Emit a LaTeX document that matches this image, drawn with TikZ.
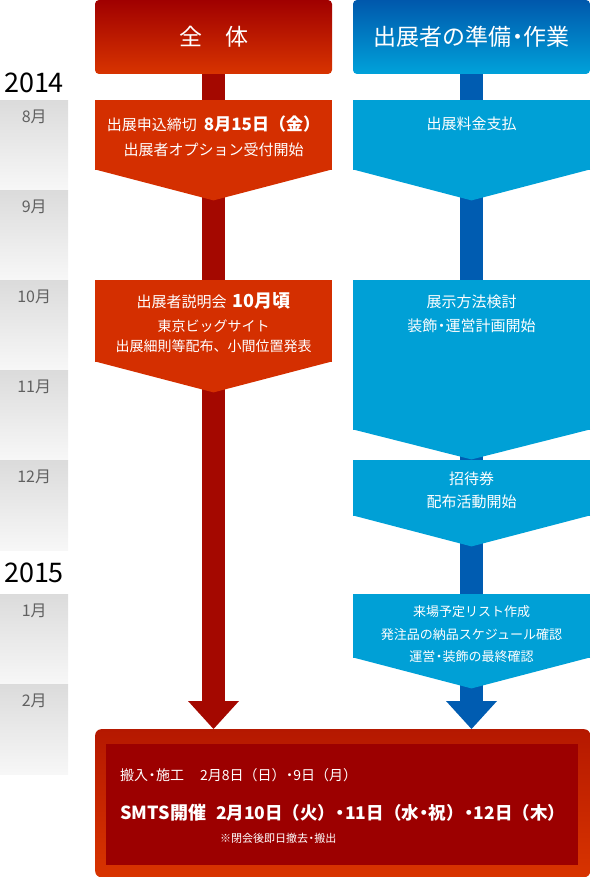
\documentclass[tikz,border=0pt]{standalone}
\usepackage{fontspec}
\setmainfont{Noto Sans CJK JP}
\usetikzlibrary{calc,backgrounds,arrows.meta}

\definecolor{hdred1}{HTML}{A00000}
\definecolor{hdred2}{HTML}{D83400}
\definecolor{boxred}{HTML}{D42F00}
\definecolor{barred}{HTML}{A40800}
\definecolor{hdblue1}{HTML}{0058AC}
\definecolor{hdblue2}{HTML}{00A2DA}
\definecolor{boxblue}{HTML}{00A0D6}
\definecolor{barblue}{HTML}{005CB1}
\definecolor{finred}{HTML}{9C0000}
\definecolor{finred1}{HTML}{B51800}
\definecolor{finred2}{HTML}{D83400}
\definecolor{monthgray}{HTML}{606060}

\newcommand{\fs}[1]{\fontsize{#1}{#1}\selectfont}
\newcommand{\nk}{\hspace{-0.22em}・\hspace{-0.22em}}
% pointed lower end of a stage box
\newcommand{\tipdown}[3]{%
  \fill[#2] ($(#1.south west)+(0,-1)$) -- ($(#1.south east)+(0,-1)$)
    -- ($(#1.south)+(0,#3)$) -- cycle;}

\tikzset{
  head/.style={minimum width=237pt, minimum height=74pt, inner sep=0,
    rounded corners=4pt, text=white, font=\fs{23}},
  redhead/.style={head, top color=hdred1, bottom color=hdred2},
  bluehead/.style={head, top color=hdblue1, bottom color=hdblue2},
  stagebox/.style={minimum width=237pt, inner sep=0, anchor=north},
  redbox/.style={stagebox, fill=boxred},
  bluebox/.style={stagebox, fill=boxblue},
  boxtext/.style={text=white, inner sep=0, font=\fs{15}},
  smalltext/.style={boxtext, font=\fs{14}},
  redbar/.style={draw=barred, line width=23pt},
  bluebar/.style={draw=barblue, line width=23pt},
  bigtip/.style={-{Triangle[width=51pt,length=28pt,line width=0pt]}},
  monthband/.style={minimum width=68pt, minimum height=90pt, inner sep=0,
    anchor=north west, top color=black!14, bottom color=black!3},
  monthlbl/.style={anchor=north, yshift=-10pt, inner sep=0,
    text=monthgray, font=\fs{16}},
  year/.style={inner sep=0, font=\fs{27}},
  fintext/.style={text=white, inner sep=0, anchor=west}
}

\begin{document}
\begin{tikzpicture}[x=1pt,y=-1pt]
  \useasboundingbox (0,0) rectangle (590,877);

  % months
  \foreach \m/\y in {8/100,9/190,10/280,11/370,12/460,1/594,2/684}
    \node[monthband, label={[monthlbl]north:{\m}月}] (m\m) at (0,\y) {};
  \node[year] (y2014) at (34,83) {2014};
  \node[year] (y2015) at (34,573) {2015};

  % headers
  \node[redhead] (rhead) at (213.5,37) {全　体};
  \node[bluehead] (bhead) at (471.5,37) {出展者の準備\nk 作業};

  % left column
  \node[redbox, minimum height=70pt] (r1) at (213.5,100) {};
  \tipdown{r1}{boxred}{30}
  \node[boxtext] (r1a) at (213.5,124)
    {出展申込締切\hspace{7pt}{\bfseries\fs{17}8月15日（金）}};
  \node[boxtext] (r1b) at (213.5,150) {出展者オプション受付開始};

  \node[redbox, minimum height=82pt] (r2) at (213.5,280) {};
  \tipdown{r2}{boxred}{30}
  \node[boxtext] (r2a) at (213.5,301)
    {出展者説明会\hspace{6pt}{\bfseries\fs{18}10月頃}};
  \node[smalltext] (r2b) at (213.5,326) {東京ビッグサイト};
  \node[smalltext] (r2c) at (213.5,346) {出展細則等配布、小間位置発表};

  % right column
  \node[bluebox, minimum height=70pt] (b1) at (471.5,100) {};
  \tipdown{b1}{boxblue}{30}
  \node[boxtext] (b1a) at (471.5,124) {出展料金支払};

  \node[bluebox, minimum height=150pt] (b2) at (471.5,280) {};
  \tipdown{b2}{boxblue}{29}
  \node[boxtext] (b2a) at (471.5,302) {展示方法検討};
  \node[boxtext] (b2b) at (471.5,326) {装飾\nk 運営計画開始};

  \node[bluebox, minimum height=56pt] (b3) at (471.5,460) {};
  \tipdown{b3}{boxblue}{30}
  \node[boxtext] (b3a) at (471.5,479) {招待券};
  \node[boxtext] (b3b) at (471.5,502) {配布活動開始};

  \node[bluebox, minimum height=64pt] (b4) at (471.5,594) {};
  \tipdown{b4}{boxblue}{30}
  \node[boxtext, font=\fs{13}] (b4a) at (471.5,612) {来場予定リスト作成};
  \node[boxtext, font=\fs{13}] (b4b) at (471.5,635) {発注品の納品スケジュール確認};
  \node[boxtext, font=\fs{13}] (b4c) at (471.5,657) {運営\nk 装飾の最終確認};

  % show period
  \node[anchor=north west, minimum width=495pt, minimum height=148pt,
        inner sep=0, rounded corners=6pt,
        top color=finred1, bottom color=finred2] (fin) at (95,729) {};
  \node[anchor=north west, minimum width=472pt, minimum height=121pt,
        inner sep=0, fill=finred] (finin) at (106,744) {};
  \node[fintext, font=\fs{14}] (setup) at (120,775)
    {搬入\nk 施工\hspace{16pt}2月8日（日）\nk 9日（月）};
  \node[fintext, font=\bfseries\fs{17.5}] (show) at (120,813)
    {{\fs{18}SMTS開催}\hspace{10pt}2月10日（火）\nk 11日（水\nk 祝）\nk 12日（木）};
  \node[fintext, font=\fs{11}] (note) at (220,838) {※閉会後即日撤去\nk 搬出};

  % flow bars
  \begin{pgfonlayer}{background}
    \draw[redbar] (rhead.south) -- (r1.north);
    \draw[redbar] (r1.south) -- (r2.north);
    \draw[redbar, bigtip] (r2.south) -- (r2.south |- fin.north);
    \draw[bluebar] (bhead.south) -- (b1.north);
    \draw[bluebar] (b1.south) -- (b2.north);
    \draw[bluebar] (b2.south) -- (b3.north);
    \draw[bluebar] (b3.south) -- (b4.north);
    \draw[bluebar, bigtip] (b4.south) -- (b4.south |- fin.north);
  \end{pgfonlayer}
\end{tikzpicture}
\end{document}
